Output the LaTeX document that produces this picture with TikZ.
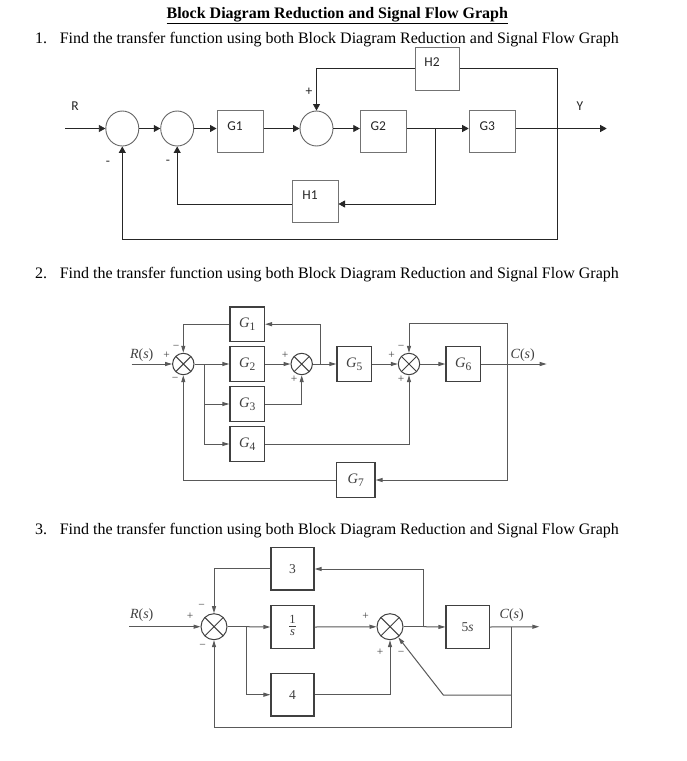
\documentclass[tikz,border=0pt]{standalone}
\usepackage{fontspec}
\setmainfont{Liberation Serif}
\newfontfamily\calfont{Carlito}
\usetikzlibrary{arrows.meta,shapes.geometric}
\newcommand\Gsub[1]{\textit{G}\raisebox{-3pt}{\fontsize{11.5}{11.5}\selectfont #1}}
\begin{document}
\begin{tikzpicture}[x=1pt,y=-1pt,
  ln1/.style={line width=0.8pt, draw=black!85},
  a1/.style={ln1, -{Triangle[length=6.5pt,width=7pt]}},
  box1/.style={draw=black!55, line width=1pt, minimum width=46pt, minimum height=42pt, inner sep=0},
  sum1/.style={ellipse, draw=black!60, line width=0.9pt, minimum width=33pt, minimum height=35pt, inner sep=0},
  t1/.style={font=\calfont\fontsize{13.5}{13.5}\selectfont, inner sep=0, text=black!85},
  ln2/.style={line width=1pt, draw=black!65},
  a2/.style={ln2, -{Triangle[length=7pt,width=4pt]}},
  box2/.style={draw=black!75, line width=1.2pt, minimum width=34.5pt, minimum height=34.5pt, inner sep=0, font=\fontsize{14.5}{14.5}\selectfont, text=black!75},
  box3/.style={draw=black!75, line width=1.2pt, minimum width=43pt, minimum height=42.7pt, inner sep=0, font=\fontsize{13.5}{13.5}\selectfont, text=black!75},
  sumx/.style={circle, draw=black!75, line width=1pt, minimum size=#1, inner sep=0,
    path picture={\draw[black!75,line width=1pt] (path picture bounding box.north west) -- (path picture bounding box.south east) (path picture bounding box.north east) -- (path picture bounding box.south west);}},
  sg/.style={font=\fontsize{11.5}{11.5}\selectfont, inner sep=0, text=black!75},
  lab/.style={font=\fontsize{14}{14}\selectfont, inner sep=0, text=black!75},
  head/.style={font=\fontsize{16}{16}\selectfont, anchor=base west, inner sep=0},
]
\useasboundingbox (0,0) rectangle (687,761);
\fill[white] (0,0) rectangle (687,761);

% ---------- headings ----------
\node[font=\bfseries\fontsize{16}{16}\selectfont, anchor=base, inner sep=0] (title) at (337.3,18.3) {\underline{Block Diagram Reduction and Signal Flow Graph}};
\node[head] (n1) at (35,43.3) {1.};
\node[head] (q1) at (59.6,43.3) {Find the transfer function using both Block Diagram Reduction and Signal Flow Graph};
\node[head] (n2) at (35,278.3) {2.};
\node[head] (q2) at (59.6,278.3) {Find the transfer function using both Block Diagram Reduction and Signal Flow Graph};
\node[head] (n3) at (35,534.3) {3.};
\node[head] (q3) at (59.6,534.3) {Find the transfer function using both Block Diagram Reduction and Signal Flow Graph};

% ---------- diagram 1 ----------
\node[sum1] (c1) at (122.3,128.5) {};
\node[sum1] (c2) at (177.2,128.5) {};
\node[sum1] (c3) at (316.5,128.5) {};
\node[box1, label={[t1,xshift=-5pt,yshift=5.8pt]center:G1}] (G1) at (240,131.8) {};
\node[box1, label={[t1,xshift=-5pt,yshift=5.8pt]center:G2}] (G2) at (383.3,131.8) {};
\node[box1, label={[t1,xshift=-5pt,yshift=5.8pt]center:G3}] (G3) at (492.2,131.8) {};
\node[box1, minimum width=44.3pt, minimum height=42.7pt, label={[t1,xshift=-5.8pt,yshift=7pt]center:H2}] (H2) at (437.8,68.7) {};
\node[box1, minimum height=42.3pt, label={[t1,xshift=-5pt,yshift=6pt]center:H1}] (H1) at (315,201.2) {};

\coordinate (Rin) at (65,128.5);
\coordinate (b1) at (435.7,128.5);
\coordinate (Yout) at (606.7,128.5);
\coordinate (tr) at (557.3,68.7);
\coordinate (br) at (557.3,239.3);
\coordinate (h1r) at (435.7,204);
\coordinate (h1l) at (177.2,204);

\draw[a1] (Rin) -- (c1);
\draw[a1] (c1) -- (c2);
\draw[a1] (c2.east) -- (G1.west |- c2.east);
\draw[a1] (G1.east |- c3.west) -- (c3.west);
\draw[a1] (c3.east) -- (G2.west |- c3.east);
\draw[ln1] (G2.east |- b1) -- (b1);
\draw[a1] (b1) -- (G3.west |- b1);
\draw[a1] (G3.east |- Yout) -- (Yout);
\draw[a1] (H2.east) -- (tr) -- (br) -- (c1.south |- br) -- (c1.south);
\draw[a1] (H2.west) -- (c3.north |- H2.west) -- (c3.north);
\draw[a1] (b1) -- (h1r) -- (H1.east |- h1r);
\draw[a1] (H1.west |- h1l) -- (h1l) -- (c2.south);

\node[t1] (lR) at (75,106) {R};
\node[t1] (lY) at (580,106) {Y};
\node[t1] (p1) at (309,92) {+};
\node[t1] (m1) at (108,163) {-};
\node[t1] (m2) at (168,162) {-};

% ---------- diagram 2 ----------
\node[sumx=21.4pt] (s1) at (183.3,364) {};
\node[sumx=21.4pt] (s2) at (301.7,364) {};
\node[sumx=21.4pt] (s3) at (409,364) {};
\node[box2] (g1) at (247.2,324.2) {\Gsub{1}};
\node[box2] (g2) at (247.2,364) {\Gsub{2}};
\node[box2] (g3) at (247.2,404) {\Gsub{3}};
\node[box2] (g4) at (247.2,444) {\Gsub{4}};
\node[box2] (g5) at (354.2,364) {\Gsub{5}};
\node[box2] (g6) at (463.3,364) {\Gsub{6}};
\node[box2, minimum width=38.3pt] (g7) at (355.8,480) {\Gsub{7}};

\coordinate (in2) at (131.7,364);
\coordinate (b2) at (204,364);
\coordinate (b3) at (320.7,364);
\coordinate (b4) at (507.7,364);
\coordinate (b4t) at (507.7,323.3);
\coordinate (out2) at (546.7,364);

\draw[a2] (in2) -- (s1);
\draw[ln2] (s1.east) -- (b2);
\draw[a2] (b2) -- (g2.west);
\draw[ln2] (b2) -- (b2 |- g4.west);
\draw[a2] (b2 |- g3.west) -- (g3.west);
\draw[a2] (b2 |- g4.west) -- (g4.west);
\draw[a2] (g2.east) -- (s2);
\draw[ln2] (s2.east) -- (b3);
\draw[a2] (b3) -- (g5.west);
\draw[a2] (b3) -- (b3 |- g1.east) -- (g1.east);
\draw[a2] (g1.west) -- (s1.north |- g1.west) -- (s1.north);
\draw[a2] (g3.east) -- (s2.south |- g3.east) -- (s2.south);
\draw[a2] (g5.east) -- (s3);
\draw[a2] (s3.east) -- (g6.west);
\draw[a2] (g6.east) -- (out2);
\draw[a2] (b4) -- (b4t) -- (s3.north |- b4t) -- (s3.north);
\draw[a2] (b4) -- (b4 |- g7.east) -- (g7.east);
\draw[a2] (g7.west) -- (s1.south |- g7.west) -- (s1.south);
\draw[a2] (g4.east) -- (s3.south |- g4.east) -- (s3.south);

\node[lab] (lR2) at (141.7,355) {\textit{R}(\textit{s})};
\node[lab] (lC2) at (522.7,355) {\textit{C}(\textit{s})};
\node[sg] at (166.7,355) {+};
\node[sg] at (176,347.3) {−};
\node[sg] at (175,379.3) {−};
\node[sg] at (285,355) {+};
\node[sg] at (294,379) {+};
\node[sg] at (391.7,355) {+};
\node[sg] at (401,347) {−};
\node[sg] at (401,379) {+};

% ---------- diagram 3 ----------
\node[sumx=26pt] (t1) at (214,626.7) {};
\node[sumx=26pt] (t2) at (390,626.7) {};
\node[box3] (B3) at (292.5,568.7) {3};
\node[box3, font=\fontsize{12.5}{12.5}\selectfont] (Bs) at (292.5,627) {\begin{tabular}{@{}c@{}}1\\[-1pt]\hline\noalign{\vskip1pt}\textit{s}\end{tabular}};
\node[box3] (B4) at (292.5,694.7) {4};
\node[box3, minimum width=43.3pt] (B5) at (467.7,627) {5\textit{s}};

\coordinate (in3) at (129.3,626.7);
\coordinate (b5) at (246,626.7);
\coordinate (b6) at (423.3,626.7);
\coordinate (b6t) at (423.3,569);
\coordinate (b7) at (511.7,626.7);
\coordinate (b7m) at (511.7,695);
\coordinate (b7b) at (511.7,727.3);
\coordinate (dg) at (443.3,695);
\coordinate (out3) at (539.3,626.7);

\draw[a2] (in3) -- (t1);
\draw[ln2] (t1.east) -- (b5);
\draw[a2] (b5) -- (Bs.west);
\draw[a2] (b5) -- (b5 |- B4.west) -- (B4.west);
\draw[a2] (Bs.east) -- (t2);
\draw[ln2] (t2.east) -- (b6);
\draw[a2] (b6) -- (B5.west);
\draw[a2] (b6) -- (b6t) -- (B3.east |- b6t);
\draw[a2] (B3.west) -- (t1.north |- B3.west) -- (t1.north);
\draw[a2] (B5.east) -- (out3);
\draw[a2] (b7) -- (b7b) -- (t1.south |- b7b) -- (t1.south);
\draw[a2] (b7m) -- (dg) -- (t2);
\draw[a2] (B4.east) -- (t2.south |- B4.east) -- (t2.south);

\node[lab] (lR3) at (141.7,615) {\textit{R}(\textit{s})};
\node[lab] (lC3) at (511.7,615) {\textit{C}(\textit{s})};
\node[sg] at (190,616) {+};
\node[sg] at (201.7,606.7) {−};
\node[sg] at (202.7,646) {−};
\node[sg] at (365.7,616) {+};
\node[sg] at (380,652.7) {+};
\node[sg] at (401,653.3) {−};
\end{tikzpicture}
\end{document}
